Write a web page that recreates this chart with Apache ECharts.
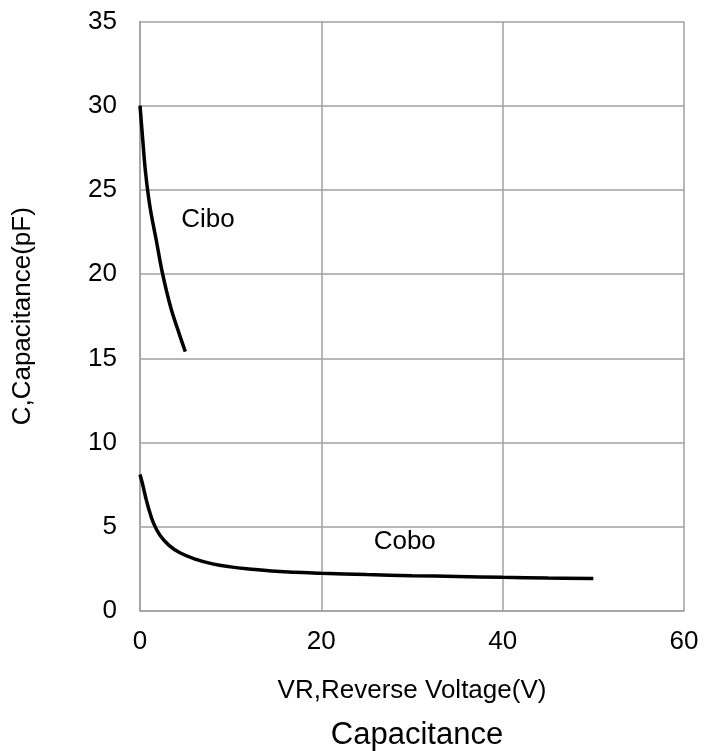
<!DOCTYPE html>
<html>
<head>
<meta charset="utf-8">
<style>html,body{margin:0;padding:0;background:#fff}#c{width:717px;height:751px}</style>
<script src="https://cdn.jsdelivr.net/npm/echarts@6/dist/echarts.min.js"></script>
</head>
<body>
<div id="c"></div>
<script>
var ciboV = [0, 0.3, 0.62, 1.1, 1.8, 2.5, 3.4, 4.3, 5];
var ciboC = [30, 28, 26, 24, 22, 20, 18, 16.5, 15.4];
var coboV = [0, 0.3, 0.6, 1.0, 1.5, 2.2, 3.2, 4.4, 6, 8, 10, 12, 15, 20, 25, 30, 35, 40, 45, 50];
var coboC = [8.1, 7.5, 6.8, 6.0, 5.2, 4.5, 3.9, 3.46, 3.1, 2.8, 2.62, 2.5, 2.36, 2.24, 2.16, 2.1, 2.05, 2.0, 1.96, 1.93];
var labelNames = ['Cibo', 'Cobo'];
var labelV = [7.5, 29.2];
var labelC = [23.25, 4.1];

function pairs(xs, ys){ return xs.map(function(x,i){ return [x, ys[i]]; }); }

var FONT = 'Liberation Sans, Arial, sans-serif';
var chart = echarts.init(document.getElementById('c'), null, {renderer:'canvas'});
chart.setOption({
  animation: false,
  backgroundColor: '#fff',
  title: {
    text: 'Capacitance',
    left: 412, top: 715, textAlign: 'center',
    textStyle: {fontFamily: FONT, fontSize: 31, fontWeight: 'normal', color: '#000'}
  },
  grid: {left: 140, right: 33, top: 21.5, bottom: 140},
  xAxis: {
    type: 'value', min: 0, max: 60, interval: 20,
    name: 'VR,Reverse Voltage(V)', nameLocation: 'middle', nameGap: 67,
    nameTextStyle: {fontFamily: FONT, fontSize: 26, color: '#000'},
    axisLine: {show: true, lineStyle: {color: '#a0a0a0', width: 1.5}},
    axisTick: {show: false},
    axisLabel: {fontFamily: FONT, fontSize: 26, color: '#000', margin: 18},
    splitLine: {show: true, lineStyle: {color: '#a0a0a0', width: 1.5}}
  },
  yAxis: {
    type: 'value', min: 0, max: 35, interval: 5,
    name: 'C,Capacitance(pF)', nameLocation: 'middle', nameGap: 104, nameRotate: 90,
    nameTextStyle: {fontFamily: FONT, fontSize: 26, color: '#000'},
    axisLine: {show: true, lineStyle: {color: '#a0a0a0', width: 1.5}},
    axisTick: {show: false},
    axisLabel: {fontFamily: FONT, fontSize: 26, color: '#000', margin: 23},
    splitLine: {show: true, lineStyle: {color: '#a0a0a0', width: 1.5}}
  },
  series: [
    {type: 'line', data: pairs(ciboV, ciboC), smooth: 0.4, showSymbol: false,
     lineStyle: {color: '#000', width: 3.5}},
    {type: 'line', data: pairs(coboV, coboC), smooth: 0.4, showSymbol: false,
     lineStyle: {color: '#000', width: 3.5}},
    {type: 'scatter', symbolSize: 0, silent: true,
     itemStyle: {opacity: 1},
     data: labelNames.map(function(n,i){ return {value: [labelV[i], labelC[i]], name: n}; }),
     label: {show: true, position: 'inside', formatter: '{b}', fontFamily: FONT, fontSize: 26, color: '#000', opacity: 1}}
  ]
});
</script>
</body>
</html>
